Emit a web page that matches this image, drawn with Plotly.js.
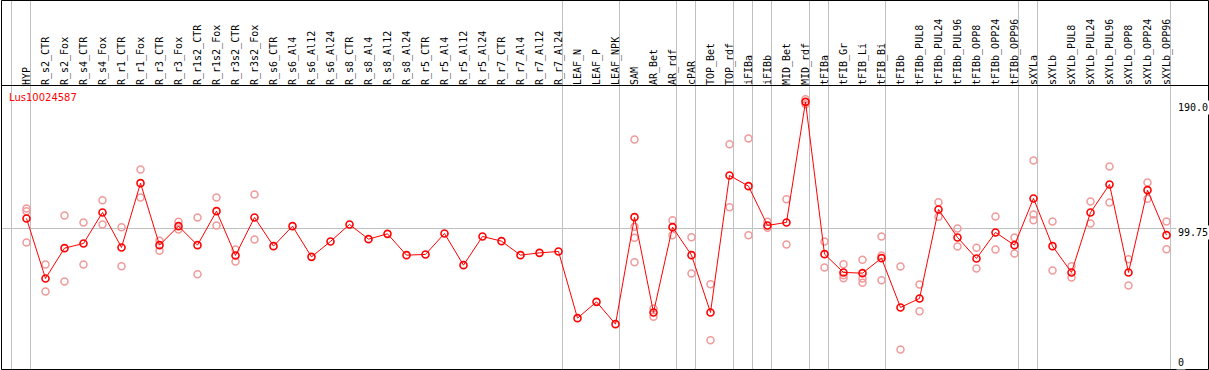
<!DOCTYPE html>
<html>
<head>
<meta charset="utf-8">
<script src="https://cdn.plot.ly/plotly-3.0.1.min.js"></script>
<style>
  html, body { margin: 0; padding: 0; background: #ffffff; }
  #chart { width: 1209px; height: 370px; }
</style>
</head>
<body>
<div id="chart"></div>
<script>
// ---- data ----
const categories = ['HYP','R_s2_CTR','R_s2_Fox','R_s4_CTR','R_s4_Fox','R_r1_CTR','R_r1_Fox','R_r3_CTR','R_r3_Fox',
  'R_r1s2_CTR','R_r1s2_Fox','R_r3s2_CTR','R_r3s2_Fox','R_s6_CTR','R_s6_Al4','R_s6_Al12','R_s6_Al24',
  'R_s8_CTR','R_s8_Al4','R_s8_Al12','R_s8_Al24','R_r5_CTR','R_r5_Al4','R_r5_Al12','R_r5_Al24',
  'R_r7_CTR','R_r7_Al4','R_r7_Al12','R_r7_Al24','LEAF_N','LEAF_P','LEAF_NPK','SAM','AR_Bet','AR_rdf',
  'cPAR','TOP_Bet','TOP_rdf','iFIBa','iFIBb','MID_Bet','MID_rdf','tFIBa','tFIB_Gr','tFIB_Li','tFIB_Bi',
  'tFIBb','tFIBb_PUL8','tFIBb_PUL24','tFIBb_PUL96','tFIBb_OPP8','tFIBb_OPP24','tFIBb_OPP96',
  'sXYLa','sXYLb','sXYLb_PUL8','sXYLb_PUL24','sXYLb_PUL96','sXYLb_OPP8','sXYLb_OPP24','sXYLb_OPP96'];

const meanValues = [107.06,63.39,85.44,88.86,111.43,85.95,132.75,87.63,101.46,87.63,112.37,80.13,107.79,
  86.9,101.46,79.11,90.32,102.69,92.0,95.85,80.35,80.86,96.14,73.07,93.96,90.54,80.35,82.02,83.04,
  34.5,46.36,30.13,108.0,38.65,100.73,80.35,38.65,138.36,130.57,101.97,104.15,191.92,81.08,67.76,67.25,
  78.17,42.29,48.84,113.61,93.23,77.95,96.87,87.63,121.62,86.9,67.76,111.43,131.8,67.76,127.66,94.91];

const replicate1 = [114.34,73.58,109.24,104.15,120.38,100.73,142.72,90.76,104.59,107.79,122.34,84.5,124.53,
  null,null,null,null,null,null,null,null,null,null,null,null,null,null,null,null,null,null,null,
  164.56,41.56,105.82,93.45,59.24,161.14,165.28,104.59,121.11,193.89,90.32,73.8,76.93,93.96,72.13,59.02,
  118.92,99.78,85.66,108.52,93.23,149.27,104.88,72.34,119.43,144.91,77.44,133.26,104.88];

const replicate2 = [112.37,53.93,61.21,73.58,102.69,72.34,122.34,83.48,99.05,66.52,101.97,75.76,91.78,
  null,null,null,null,null,null,null,null,null,null,null,null,null,null,null,null,null,null,null,
  100.95,35.44,94.91,67.03,18.49,115.28,94.91,100.22,88.14,190.25,71.4,65.79,63.39,80.13,11.72,39.59,
  108.22,86.68,70.67,84.5,81.59,109.97,69.21,64.12,103.42,118.7,58.3,121.32,84.72];

const replicate3 = [89.59,
  null,null,null,null,null,null,null,null,null,null,null,null,null,null,null,null,null,null,null,null,
  null,null,null,null,null,null,null,null,null,null,null,
  92.94,
  null,null,null,null,null,null,null,null,null,null,
  63.61,60.19,62.15,
  null,null,null,null,null,null,null,
  105.82,
  null,null,null,null,null,null,null];

const replicate4 = [null,null,null,null,null,null,null,null,null,null,null,null,null,null,null,null,
  null,null,null,null,null,null,null,null,null,null,null,null,null,null,null,null,
  75.25,
  null,null,null,null,null,null,null,null,null,null,null,null,null,null,null,null,null,null,null,null,
  null,null,null,null,null,null,null,null];

// first category of each sample group (separators drawn between groups)
const groupStarts = ['HYP','R_s2_CTR','LEAF_N','SAM','cPAR','TOP_Bet','iFIBa','iFIBb','MID_Bet',
  'tFIBa','tFIB_Gr','tFIBb','sXYLa','sXYLb'];

const geneName = 'Lus10024587';
const yLabelValues = [190, 99.75, 0];
const yLabelText = ['190.0', '99.75', '0'];
const yGridValues = [99.75];

// ---- layout constants ----
const W = 1209, H = 370;
const M = {l: 2, r: 1, t: 86, b: 1};
const plotW = W - M.l - M.r, plotH = H - M.t - M.b;
const step = 19;               // px per category
const firstPx = 26.5;          // px of first category centre
const xr0 = (M.l - firstPx) / step;
const xr1 = xr0 + plotW / step;
const sepOff = 4 / step;

// replicate points as one trace
const repX = [], repY = [];
[replicate1, replicate2, replicate3, replicate4].forEach(arr => {
  arr.forEach((v, i) => { if (v !== null) { repX.push(categories[i]); repY.push(v); } });
});

const traces = [
  {
    type: 'scatter', mode: 'markers', x: repX, y: repY,
    marker: {symbol: 'circle-open', size: 7, color: '#f09a9a', line: {width: 1.5, color: '#f09a9a'}},
    hoverinfo: 'skip', showlegend: false
  },
  {
    type: 'scatter', mode: 'lines+markers', x: categories, y: meanValues,
    line: {color: '#ff0000', width: 1},
    marker: {symbol: 'circle-open', size: 7, color: '#ff0000', line: {width: 1.6, color: '#ff0000'}},
    showlegend: false
  }
];

const shapes = [];
// group separators
const sepIdx = groupStarts.map(n => categories.indexOf(n) - 1).concat([categories.length - 1]);
sepIdx.forEach(k => {
  shapes.push({type: 'line', xref: 'x', yref: 'paper', x0: k + sepOff, x1: k + sepOff,
    y0: 0, y1: 1 + M.t / plotH, line: {color: '#c0c0c0', width: 1}, layer: 'below'});
});
// outer frame + header line
shapes.push({type: 'rect', xref: 'paper', yref: 'paper',
  x0: -0.5 / plotW, x1: 1 + 0.5 / plotW, y0: -0.5 / plotH, y1: 1 + (M.t - 0.5) / plotH,
  line: {color: '#000000', width: 1}, fillcolor: 'rgba(0,0,0,0)', layer: 'above'});
shapes.push({type: 'line', xref: 'paper', yref: 'paper', x0: -0.5 / plotW, x1: 1 + 0.5 / plotW,
  y0: 1 + 0.5 / plotH, y1: 1 + 0.5 / plotH, line: {color: '#000000', width: 1}, layer: 'above'});

const labelShift = [-3, -3.5, 3];
const annotations = yLabelValues.map((v, i) => ({
  xref: 'paper', yref: 'y', x: (1176 - M.l) / plotW, y: v, xanchor: 'left', yanchor: 'middle',
  yshift: labelShift[i], text: yLabelText[i], showarrow: false, bgcolor: '#ffffff',
  font: {family: 'DejaVu Sans Mono', size: 10, color: '#000000'}
}));

const layout = {
  width: W, height: H,
  margin: {l: M.l, r: M.r, t: M.t, b: M.b, pad: 0},
  paper_bgcolor: '#ffffff', plot_bgcolor: '#ffffff',
  title: {text: geneName, xref: 'container', yref: 'container', x: 9 / W, y: 1 - 97.5 / H,
    xanchor: 'left', yanchor: 'middle', font: {family: 'DejaVu Sans', size: 10, color: '#ff0000'}},
  xaxis: {
    type: 'category', categoryorder: 'array', categoryarray: categories,
    side: 'top', range: [xr0, xr1], tickmode: 'array',
    tickvals: categories, ticktext: categories, tickangle: -90, ticks: '',
    tickfont: {family: 'DejaVu Sans Mono', size: 10, color: '#000000'},
    showgrid: false, zeroline: false, showline: false, fixedrange: true
  },
  yaxis: {
    range: [-2.51, 203.46], tickmode: 'array', tickvals: yGridValues, showticklabels: false,
    showgrid: true, gridcolor: '#c0c0c0', gridwidth: 1, zeroline: false, showline: false,
    ticks: '', fixedrange: true
  },
  shapes: shapes,
  annotations: annotations,
  hovermode: false
};

Plotly.newPlot('chart', traces, layout, {staticPlot: true, displayModeBar: false});
</script>
</body>
</html>
